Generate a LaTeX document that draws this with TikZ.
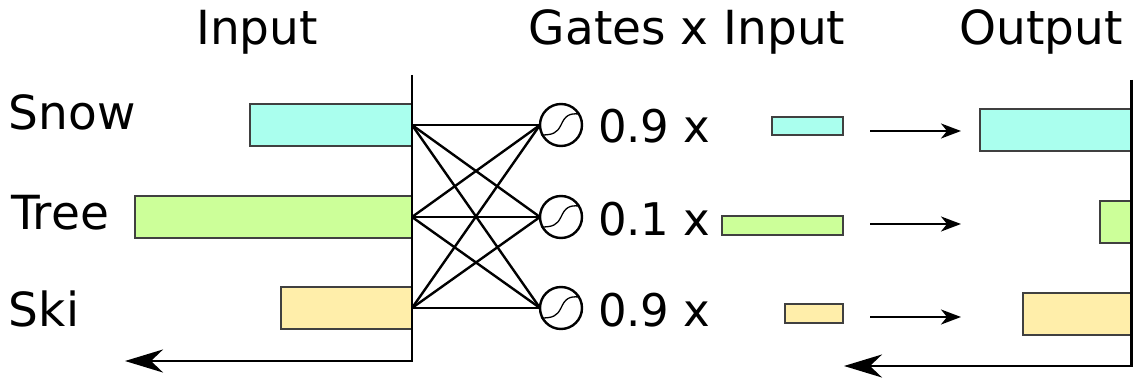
\documentclass[tikz,border=0pt]{standalone}
\usepackage{fontspec}
\setmainfont{DejaVu Sans}
\usetikzlibrary{arrows.meta}
\definecolor{snowc}{RGB}{170,255,238}
\definecolor{treec}{RGB}{204,255,153}
\definecolor{skic}{RGB}{255,238,170}
\tikzset{
  bar/.style={draw=black!75, line width=1.4pt, inner sep=0pt, outer sep=0pt, anchor=north west},
  lbl/.style={inner sep=0pt, outer sep=0pt, anchor=base west, font=\fontsize{47}{56}\selectfont},
  val/.style={inner sep=0pt, outer sep=0pt, anchor=base west, font=\fontsize{45}{54}\selectfont},
  ttl/.style={inner sep=0pt, outer sep=0pt, anchor=base, font=\fontsize{47}{56}\selectfont},
  gate/.style={circle, draw=black, line width=2.4pt, minimum size=42pt, inner sep=0pt, outer sep=0pt},
  wire/.style={line width=2.4pt},
  axis/.style={line width=2.6pt, -{Stealth[length=38pt, width=23pt, inset=12pt]}},
  flow/.style={line width=2.4pt, -{Stealth[length=20pt, width=15pt, inset=6pt]}},
}
\begin{document}
\begin{tikzpicture}[x=1pt, y=-1pt]
\useasboundingbox (0,0) rectangle (1133,379);
% titles
\node[ttl] (tIn) at (257,45) {Input};
\node[ttl] (tGate) at (687,45) {Gates x Input};
\node[ttl] (tOut) at (1041,45) {Output};
% word labels
\node[lbl] (wSnow) at (9,130) {Snow};
\node[lbl] (wTree) at (11,230) {Tree};
\node[lbl] (wSki) at (9,327) {Ski};
% input bars
\node[bar, fill=snowc, minimum width=162pt, minimum height=42pt] (inSnow) at (250,104) {};
\node[bar, fill=treec, minimum width=277pt, minimum height=42pt] (inTree) at (135,196) {};
\node[bar, fill=skic, minimum width=131pt, minimum height=42pt] (inSki) at (281,287) {};
% left axis
\coordinate (laTop) at (412,75);
\coordinate (laCorner) at (412,361);
\coordinate (laEnd) at (125,361);
\draw[axis] (laTop) -- (laCorner) -- (laEnd);
% gates
\node[gate] (g1) at (561,125) {};
\node[gate] (g2) at (561,217) {};
\node[gate] (g3) at (561,308) {};
\foreach \g in {g1,g2,g3}{
  \draw[line width=1.3pt] ([shift={(-20,10)}]\g.center) .. controls ([shift={(-8,10)}]\g.center) and ([shift={(-4,8)}]\g.center) .. (\g.center) .. controls ([shift={(4,-9)}]\g.center) and ([shift={(8,-12)}]\g.center) .. ([shift={(18,-11)}]\g.center);
}
% wires
\foreach \a in {inSnow,inTree,inSki}{
  \foreach \g in {g1,g2,g3}{
    \draw[wire] (\a.east) -- (\g.west);
  }
}
% gate values
\node[val] (v1) at (598,143) {0.9 x};
\node[val] (v2) at (598,236) {0.1 x};
\node[val] (v3) at (598,327) {0.9 x};
% gated bars
\node[bar, fill=snowc, minimum width=71pt, minimum height=18pt] (mSnow) at (772,117) {};
\node[bar, fill=treec, minimum width=121pt, minimum height=19pt] (mTree) at (722,216) {};
\node[bar, fill=skic, minimum width=58pt, minimum height=19pt] (mSki) at (785,304) {};
% flow arrows
\coordinate (a1s) at (870,131); \coordinate (a1e) at (961,131);
\coordinate (a2s) at (870,224); \coordinate (a2e) at (961,224);
\coordinate (a3s) at (870,317); \coordinate (a3e) at (961,317);
\draw[flow] (a1s) -- (a1e);
\draw[flow] (a2s) -- (a2e);
\draw[flow] (a3s) -- (a3e);
% output bars
\node[bar, fill=snowc, minimum width=152pt, minimum height=42pt] (oSnow) at (980,109) {};
\node[bar, fill=treec, minimum width=32pt, minimum height=42pt] (oTree) at (1100,201) {};
\node[bar, fill=skic, minimum width=109pt, minimum height=42pt] (oSki) at (1023,293) {};
% right axis
\coordinate (raTop) at (1131.5,80);
\coordinate (raCorner) at (1131.5,366);
\coordinate (raEnd) at (844,366);
\draw[axis] (raTop) -- (raCorner) -- (raEnd);
\end{tikzpicture}
\end{document}
